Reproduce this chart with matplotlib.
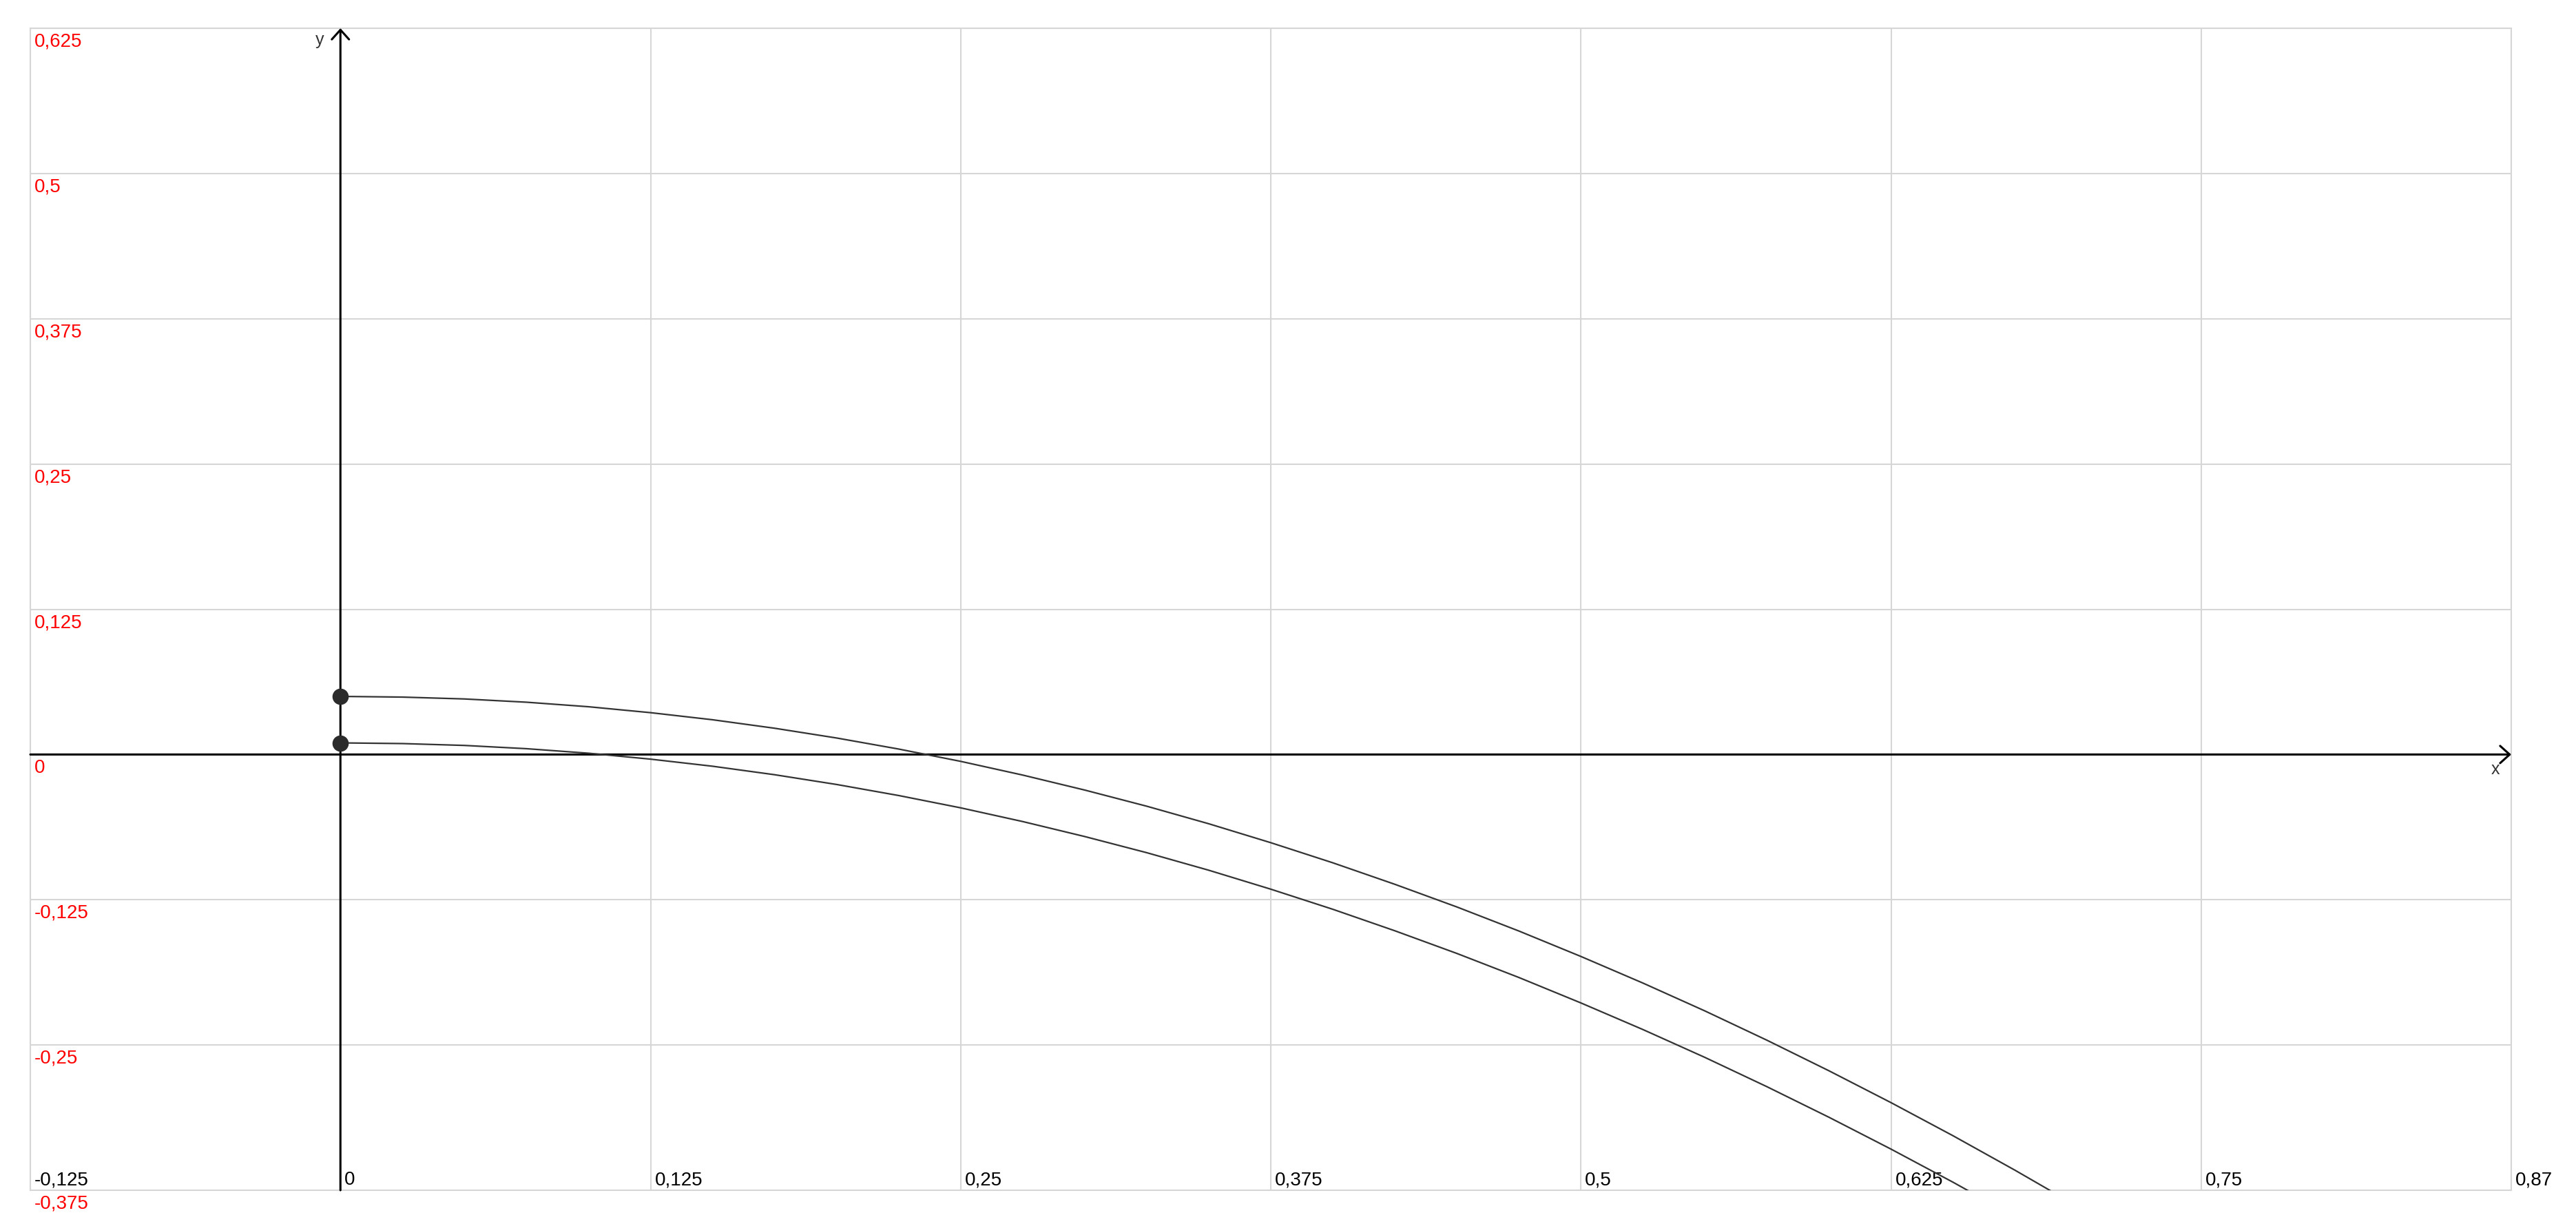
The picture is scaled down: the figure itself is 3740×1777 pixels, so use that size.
import matplotlib
matplotlib.use("Agg")
import matplotlib.pyplot as plt

# points (x, y)
x_pts = [0, 0.025, 0.05, 0.075, 0.1, 0.125, 0.15, 0.175, 0.2, 0.225, 0.25, 0.275, 0.3,
         0.325, 0.35, 0.375, 0.4, 0.425, 0.45, 0.475, 0.5, 0.525, 0.55, 0.575, 0.6,
         0.625, 0.65, 0.675, 0.7]
y_upper = [0.05, 0.0494, 0.0478, 0.0450, 0.0411, 0.0360, 0.0299, 0.0226, 0.0142, 0.0047,
           -0.0059, -0.0177, -0.0306, -0.0445, -0.0596, -0.0759, -0.0932, -0.1117,
           -0.1312, -0.1519, -0.1738, -0.1967, -0.2207, -0.2459, -0.2722, -0.2996,
           -0.3281, -0.3578, -0.3886]
y_lower = [0.01, 0.0094, 0.0078, 0.0050, 0.0011, -0.0040, -0.0101, -0.0174, -0.0258,
           -0.0353, -0.0459, -0.0577, -0.0706, -0.0845, -0.0996, -0.1159, -0.1332,
           -0.1517, -0.1712, -0.1919, -0.2138, -0.2367, -0.2607, -0.2859, -0.3122,
           -0.3396, -0.3681, -0.3978, -0.4286]

# start points on the y axis
start_x = [0, 0]
start_y = [0.05, 0.01]

x_ticks = [-0.125, 0, 0.125, 0.25, 0.375, 0.5, 0.625, 0.75, 0.875]
x_labels = ['-0,125', '0', '0,125', '0,25', '0,375', '0,5', '0,625', '0,75', '0,87']
y_ticks = [0.625, 0.5, 0.375, 0.25, 0.125, 0, -0.125, -0.25, -0.375]
y_labels = ['0,625', '0,5', '0,375', '0,25', '0,125', '0', '-0,125', '-0,25', '-0,375']

plt.rcParams['font.family'] = ['Liberation Sans', 'DejaVu Sans']

fig = plt.figure(figsize=(37.41, 17.77), dpi=100)
ax = fig.add_axes([44 / 3741, 1 - 1728 / 1777, (3646 - 44) / 3741, (1728 - 41) / 1777])
ax.set_xlim(x_ticks[0], x_ticks[-1])
ax.set_ylim(y_ticks[-1], y_ticks[0])

# grid
ax.set_xticks(x_ticks)
ax.set_yticks(y_ticks)
ax.grid(True, color='#d6d6d6', lw=1.5)
ax.tick_params(length=0, labelbottom=False, labelleft=False)
for s in ax.spines.values():
    s.set_color('#d6d6d6')
    s.set_linewidth(1.5)

# axes with arrows
arrow = dict(arrowstyle='->,head_length=0.5,head_width=0.45', lw=2.2, color='black',
             shrinkA=0, shrinkB=0, mutation_scale=20)
ax.annotate('', xy=(x_ticks[-1], 0), xytext=(x_ticks[0], 0), arrowprops=arrow, zorder=3)
ax.annotate('', xy=(0, y_ticks[0]), xytext=(0, y_ticks[-1]), arrowprops=arrow, zorder=3)
ax.text(0.8685, -0.013, 'x', fontsize=18, color='#333333', ha='center', va='center')
ax.text(-0.0085, 0.615, 'y', fontsize=18, color='#333333', ha='center', va='center')

# curves
ax.plot(x_pts, y_upper, color='#333333', lw=1.6, zorder=4)
ax.plot(x_pts, y_lower, color='#333333', lw=1.6, zorder=4)
ax.plot(start_x, start_y, 'o', color='#2b2b2b', ms=16, zorder=5)

# tick labels drawn inside the plot
for v, lab in zip(y_ticks, y_labels):
    ax.text(x_ticks[0] + 0.0017, v - 0.004, lab, color='red', fontsize=20,
            ha='left', va='top', clip_on=False)
for v, lab in zip(x_ticks, x_labels):
    ax.text(v + 0.0017, y_ticks[-1] + 0.001, lab, color='black', fontsize=20,
            ha='left', va='bottom', clip_on=False)

fig.savefig('out.png', dpi=100, facecolor='white')
